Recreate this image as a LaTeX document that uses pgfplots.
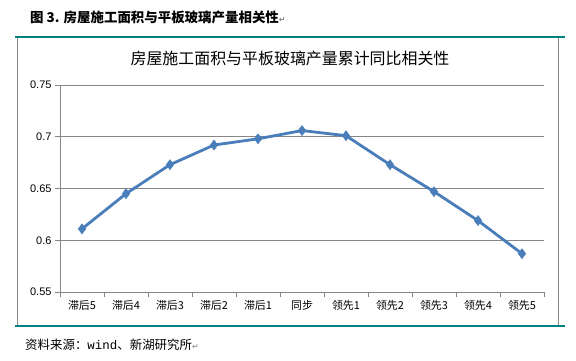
\documentclass[border=0pt]{standalone}
\usepackage{fontspec}
\setmainfont{Liberation Sans}
\newfontfamily\cjk{Noto Sans CJK SC}
\newfontfamily\dejavu{DejaVu Sans}
\newfontfamily\mono{Liberation Mono}
\usepackage{pgfplots}
\pgfplotsset{compat=1.18}
\definecolor{teal2}{RGB}{0,128,128}
\definecolor{linec}{RGB}{74,126,187}
\definecolor{gridc}{RGB}{134,134,134}
\begin{document}
\begin{tikzpicture}[x=1bp,y=1bp]
\fill[white] (0,0) rectangle (576,360);
\node[anchor=west, inner sep=0pt, font=\cjk\bfseries\fontsize{13.5}{15}\selectfont] at (30,343) {图 3. 房屋施工面积与平板玻璃产量相关性{\dejavu\color{gray}\fontsize{8}{8}\selectfont ↵}};
\draw[gridc, line width=0.8bp] (17,323) -- (17,34);
\draw[gridc, line width=0.8bp] (558,323) -- (558,34);
\draw[teal2, line width=2.5bp] (15,323) -- (565,323);
\draw[teal2, line width=2.5bp] (15,34) -- (565,34);
\node[font=\cjk\fontsize{16}{18}\selectfont] at (290,302) {房屋施工面积与平板玻璃产量累计同比相关性};
\node[anchor=west, inner sep=0pt, font=\cjk\fontsize{12.5}{14}\selectfont] at (25,15) {资料来源：{\mono wind}、新湖研究所{\dejavu\color{gray}\fontsize{8}{8}\selectfont ↵}};
\begin{axis}[
  at={(60bp,68bp)}, anchor=south west,
  scale only axis, width=484bp, height=207bp,
  xmin=-0.5, xmax=10.5, ymin=0.55, ymax=0.75,
  ytick={0.55,0.6,...,0.75},
  yticklabels={0.55,0.6,0.65,0.7,0.75},
  xtick={0,...,10},
  xticklabels={滞后5,滞后4,滞后3,滞后2,滞后1,同步,领先1,领先2,领先3,领先4,领先5},
  x tick label style={font=\cjk\fontsize{11}{12}\selectfont},
  y tick label style={font=\fontsize{11}{12}\selectfont},
  minor xtick={-0.5,0.5,...,10.5},
  tick align=outside,
  major x tick style={draw=none},
  major tick length=5bp, minor tick length=5bp,
  tick style={gridc, line width=0.8bp},
  minor tick style={gridc, line width=0.8bp},
  ymajorgrids, grid style={gridc, line width=0.8bp},
  axis x line*=bottom, axis y line*=left,
  axis line style={gridc, line width=0.8bp, -},
  clip=false,
]
\addplot[linec, line width=2.8bp, mark=diamond*, mark size=5bp, mark options={fill=linec, draw=linec, line width=0.5bp}] coordinates {
(0,0.611) (1,0.645) (2,0.673) (3,0.692) (4,0.698) (5,0.706) (6,0.701) (7,0.673) (8,0.647) (9,0.619) (10,0.587)
};
\end{axis}
\end{tikzpicture}
\end{document}
